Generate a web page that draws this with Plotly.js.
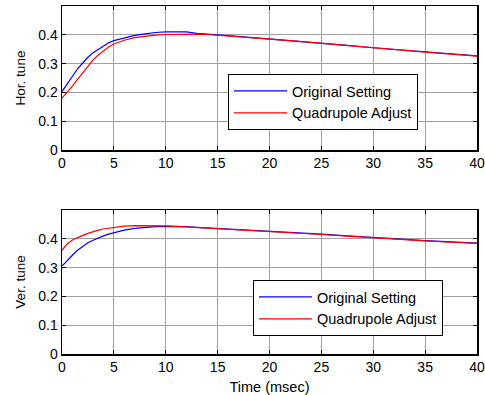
<!DOCTYPE html>
<html><head><meta charset="utf-8">
<script src="https://cdn.plot.ly/plotly-3.0.1.min.js"></script>
<style>html,body{margin:0;padding:0;background:#fff;}#chart{width:485px;height:395px;}</style>
</head><body><div id="chart"></div>
<script>
var time = [0,0.5,1,1.5,2,2.5,3,3.5,4,4.5,5,6,7,8,9,10,11,12,13,14,15,17.5,20,22.5,25,27.5,30,32.5,35,37.5,40];
var horOriginal = [0.203,0.230,0.257,0.282,0.302,0.322,0.338,0.350,0.362,0.372,0.380,0.390,0.398,0.403,0.408,0.410,0.410,0.410,0.405,0.403,0.400,0.393,0.386,0.379,0.371,0.363,0.355,0.348,0.341,0.334,0.327];
var horQuad = [0.180,0.200,0.222,0.245,0.268,0.292,0.313,0.330,0.345,0.358,0.368,0.381,0.390,0.395,0.399,0.401,0.402,0.403,0.402,0.401,0.398,0.392,0.385,0.378,0.370,0.362,0.354,0.347,0.340,0.333,0.326];
var verOriginal = [0.305,0.325,0.343,0.360,0.374,0.386,0.395,0.403,0.410,0.416,0.421,0.430,0.436,0.440,0.442,0.443,0.443,0.442,0.440,0.438,0.436,0.432,0.428,0.422,0.416,0.410,0.404,0.399,0.394,0.389,0.385];
var verQuad = [0.360,0.382,0.396,0.405,0.412,0.419,0.425,0.430,0.434,0.437,0.440,0.444,0.446,0.446,0.446,0.445,0.443,0.441,0.439,0.437,0.436,0.431,0.427,0.421,0.415,0.409,0.403,0.398,0.393,0.388,0.384];
var seriesNames = ['Original Setting','Quadrupole Adjust'];
var xTicks = [0,5,10,15,20,25,30,35,40];
var yTicks = [0,0.1,0.2,0.3,0.4];
var yTickText = ['0','0.1','0.2','0.3','0.4'];

var fontFam = 'Liberation Sans, Arial, sans-serif';
var traces = [
  {x: time, y: horOriginal, name: seriesNames[0], type:'scatter', mode:'lines', line:{color:'#0000ff', width:1.2}, xaxis:'x', yaxis:'y', legend:'legend'},
  {x: time, y: horQuad, name: seriesNames[1], type:'scatter', mode:'lines', line:{color:'#ff0000', width:1.2}, xaxis:'x', yaxis:'y', legend:'legend'},
  {x: time, y: verOriginal, name: seriesNames[0], type:'scatter', mode:'lines', line:{color:'#0000ff', width:1.2}, xaxis:'x2', yaxis:'y2', legend:'legend2'},
  {x: time, y: verQuad, name: seriesNames[1], type:'scatter', mode:'lines', line:{color:'#ff0000', width:1.2}, xaxis:'x2', yaxis:'y2', legend:'legend2'}
];
function xax(anchor, title) {
  return {domain:[62/485, 477/485], anchor: anchor, range:[0,40], tickvals: xTicks, ticktext: xTicks.map(String),
    showgrid:true, gridcolor:'#a0a0a0', gridwidth:1, zeroline:false, showline:true, linecolor:'#000', linewidth:1.5,
    mirror:'ticks', ticks:'inside', ticklen:4, tickcolor:'#000', automargin:false,
    tickfont:{family:fontFam, size:14, color:'#000'}, title: title ? {text:title, font:{family:fontFam, size:14.5, color:'#000'}} : undefined};
}
function yax(anchor, dom, title) {
  return {domain: dom, anchor: anchor, range:[0,0.5], tickvals: yTicks, ticktext: yTickText,
    showgrid:true, gridcolor:'#a0a0a0', gridwidth:1, zeroline:false, showline:true, linecolor:'#000', linewidth:1.5,
    mirror:'ticks', ticks:'inside', ticklen:4, tickcolor:'#000', automargin:false,
    tickfont:{family:fontFam, size:14, color:'#000'}, title:{text:title, font:{family:fontFam, size:13.5, color:'#000'}}};
}
var legendCommon = {xanchor:'left', yanchor:'top', bgcolor:'#fff', bordercolor:'#000', borderwidth:1,
  font:{family:fontFam, size:14.5, color:'#000'}, itemwidth:53, tracegroupgap:0};
var layout = {
  width:485, height:395, margin:{l:0, r:0, t:0, b:0}, paper_bgcolor:'#fff', plot_bgcolor:'#fff',
  showlegend:true,
  xaxis: xax('y', null),
  yaxis: yax('x', [1-150/395, 1-6/395], 'Hor. tune'),
  xaxis2: xax('y2', 'Time (msec)'),
  yaxis2: yax('x2', [1-354/395, 1-210/395], 'Ver. tune'),
  legend: Object.assign({x:228/485, y:1-74/395}, legendCommon),
  legend2: Object.assign({x:253/485, y:1-280/395}, legendCommon)
};
Plotly.newPlot('chart', traces, layout, {staticPlot:true, displayModeBar:false});
</script></body></html>
